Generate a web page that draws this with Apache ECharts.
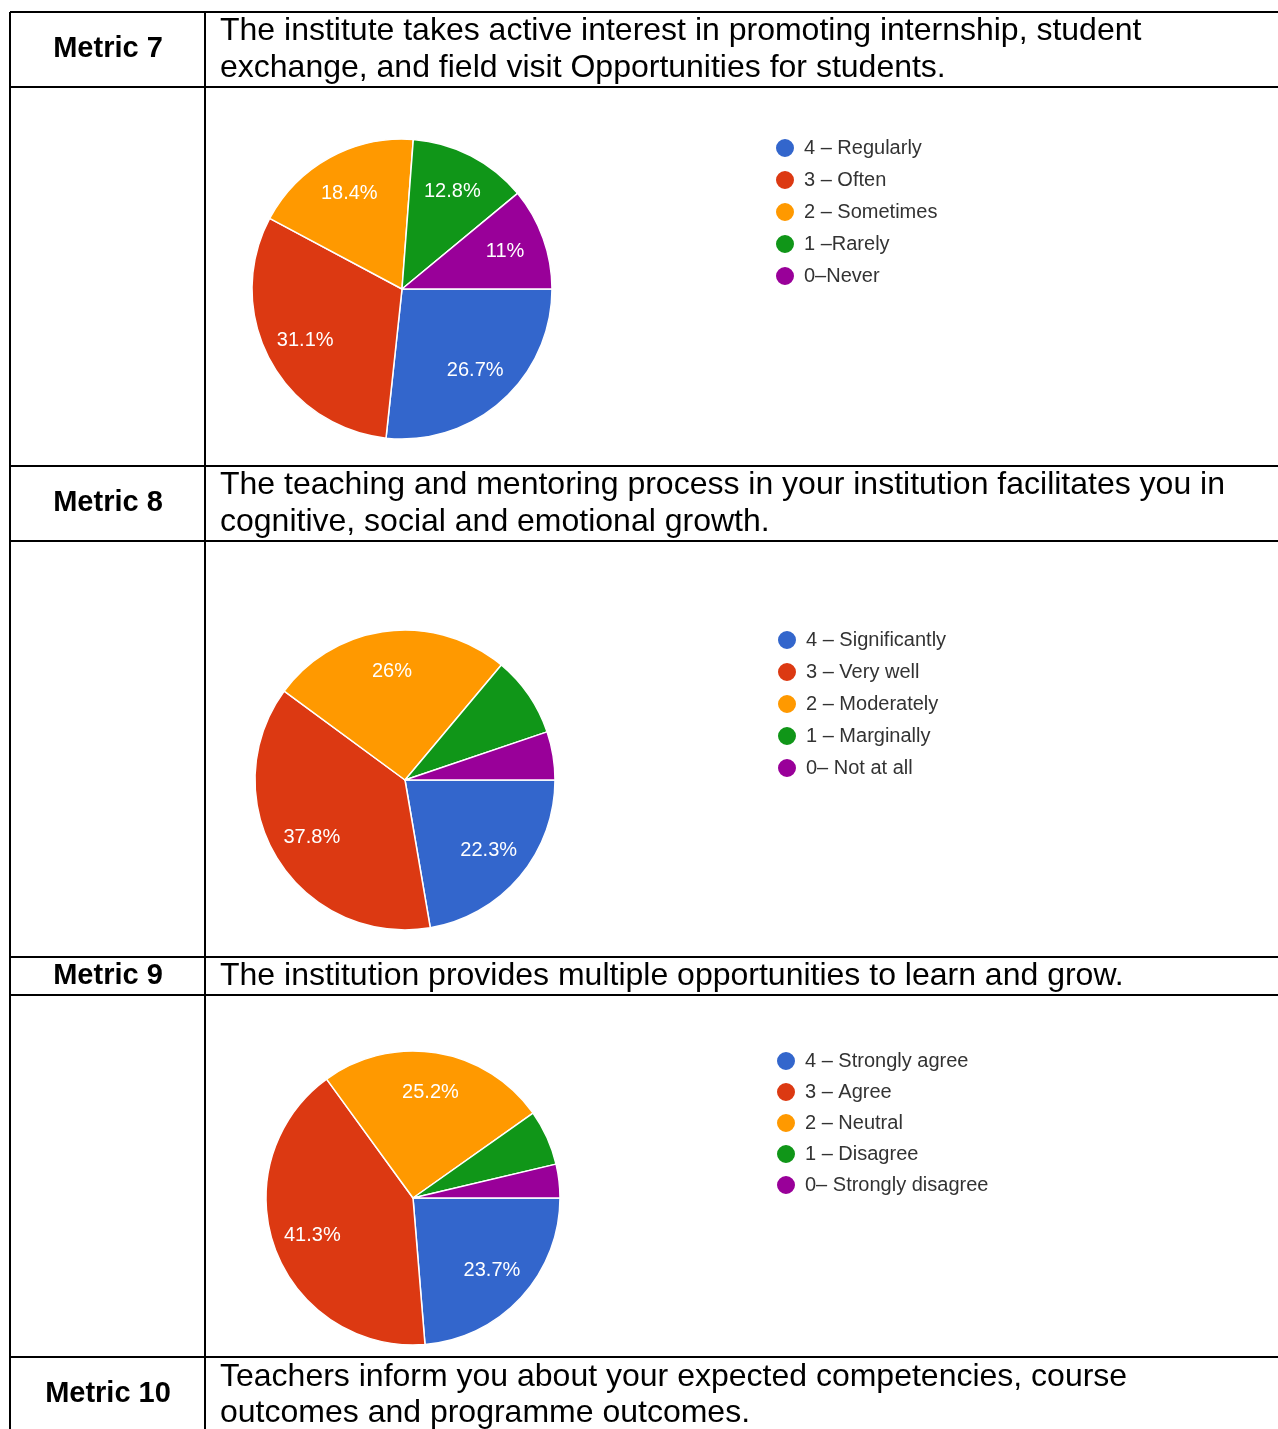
<!DOCTYPE html>
<html><head><meta charset="utf-8">
<script src="https://cdn.jsdelivr.net/npm/echarts/dist/echarts.min.js"></script>
<style>html,body{margin:0;padding:0;background:#fff}#c{width:1278px;height:1429px}</style>
</head><body><div id="c"></div>
<script>
// ---- data ----
const sliceColors = ['#3366cc', '#dc3912', '#ff9900', '#109618', '#990099'];
const metricTitles = ['Metric 7', 'Metric 8', 'Metric 9', 'Metric 10'];
const questionLines = [
  ['The institute takes active interest in promoting internship, student', 'exchange, and field visit Opportunities for students.'],
  ['The teaching and mentoring process in your institution facilitates you in', 'cognitive, social and emotional growth.'],
  ['The institution provides multiple opportunities to learn and grow.'],
  ['Teachers inform you about your expected competencies, course', 'outcomes and programme outcomes.']
];
const m7Categories = ['4 – Regularly', '3 – Often', '2 – Sometimes', '1 –Rarely', '0–Never'];
const m7Values = [26.7, 31.1, 18.4, 12.8, 11];
const m8Categories = ['4 – Significantly', '3 – Very well', '2 – Moderately', '1 – Marginally', '0– Not at all'];
const m8Values = [22.3, 37.8, 26, 8.7, 5.2];
const m9Categories = ['4 – Strongly agree', '3 – Agree', '2 – Neutral', '1 – Disagree', '0– Strongly disagree'];
const m9Values = [23.7, 41.3, 25.2, 6.1, 3.7];

// ---- layout ----
const FONT = '"Liberation Sans", Arial, Helvetica, sans-serif';
const hLines = [12, 87, 466, 541, 957, 995, 1357];
const vLines = [10, 205];
const titleY = [49, 503, 976, 1394];
const questionY = [[31, 68], [485, 522], [976], [1377, 1413]];
const pies = [
  { cats: m7Categories, vals: m7Values, center: [402, 289], r: 150, legendLeft: 769, legendTop: 132, gap: 10 },
  { cats: m8Categories, vals: m8Values, center: [405, 780], r: 150, legendLeft: 771, legendTop: 624, gap: 10 },
  { cats: m9Categories, vals: m9Values, center: [413, 1198], r: 147, legendLeft: 770, legendTop: 1045, gap: 9 }
];

const graphics = [];
hLines.forEach(y => graphics.push({ type: 'line', shape: { x1: 10, y1: y, x2: 1278, y2: y }, style: { stroke: '#000', lineWidth: 2 }, silent: true }));
vLines.forEach(x => graphics.push({ type: 'line', shape: { x1: x, y1: 12, x2: x, y2: 1429 }, style: { stroke: '#000', lineWidth: 2 }, silent: true }));
metricTitles.forEach((t, i) => graphics.push({
  type: 'text', style: { text: t, x: 108, y: titleY[i], textAlign: 'center', textVerticalAlign: 'middle', font: 'bold 29px ' + FONT, fill: '#000' }, silent: true
}));
questionLines.forEach((lines, i) => lines.forEach((ln, j) => graphics.push({
  type: 'text', style: { text: ln, x: 220, y: questionY[i][j], textAlign: 'left', textVerticalAlign: 'middle', font: '32px ' + FONT, fill: '#000' }, silent: true
})));

const series = [];
const legends = [];
pies.forEach(p => {
  series.push({
    type: 'pie', center: p.center, radius: p.r, startAngle: 0, clockwise: true,
    color: sliceColors, label: { show: false }, labelLine: { show: false },
    itemStyle: { borderColor: '#fff', borderWidth: 1.5 },
    emphasis: { scale: false },
    data: p.cats.map((c, i) => ({ name: c, value: p.vals[i] }))
  });
});
pies.forEach(p => {
  const labelR = p.r * 0.71;
  series.push({
    type: 'pie', center: p.center, radius: labelR * 2, startAngle: 0, clockwise: true,
    silent: true, avoidLabelOverlap: false, legendHoverLink: false,
    itemStyle: { color: 'rgba(0,0,0,0)', borderWidth: 0 },
    emphasis: { disabled: true },
    labelLine: { show: false },
    label: { show: true, position: 'inside', formatter: '{c}%', color: '#fff', fontSize: 20, fontFamily: FONT },
    data: p.cats.map((c, i) => ({ name: c, value: p.vals[i], label: { show: p.vals[i] >= 10 } }))
  });
  legends.push({
    orient: 'vertical', left: p.legendLeft, top: p.legendTop, itemGap: p.gap,
    icon: 'circle', itemWidth: 20, itemHeight: 20, selectedMode: false,
    textStyle: { fontSize: 20, color: '#333', fontFamily: FONT, padding: [0, 0, 0, 4] },
    data: p.cats
  });
});

const chart = echarts.init(document.getElementById('c'), null, { renderer: 'canvas' });
chart.setOption({
  backgroundColor: '#fff', animation: false,
  legend: legends, series: series, graphic: graphics
});
</script></body></html>
